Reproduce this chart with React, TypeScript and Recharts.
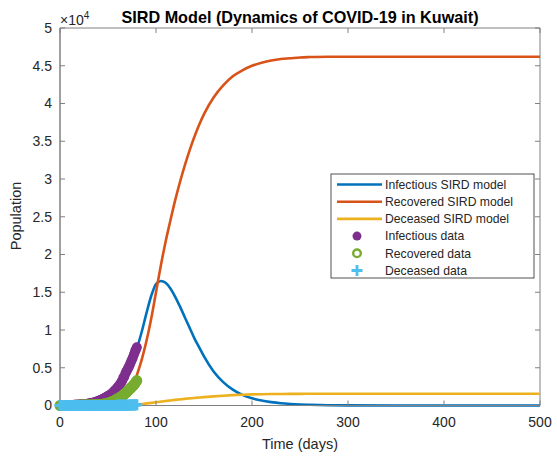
import React from 'react';
import { ComposedChart, Line, Scatter, XAxis, YAxis, ReferenceArea, ReferenceLine } from 'recharts';

document.body.style.margin = '0';

// model curves (SIRD fit), population
const modelDays = [0, 10, 20, 30, 40, 50, 60, 65, 70, 75, 80, 85, 90, 95, 100, 105, 110, 115, 120, 125, 130, 135, 140, 145, 150, 160, 170, 180, 190, 200, 210, 220, 230, 240, 250, 260, 280, 300, 350, 400, 450, 500];
const infectiousModel = [10, 20, 50, 120, 300, 700, 1600, 2500, 3800, 5500, 7500, 9700, 12200, 14500, 16100, 16500, 16250, 15500, 14400, 13100, 11700, 10300, 8900, 7700, 6500, 4500, 3100, 2100, 1400, 950, 650, 450, 300, 200, 130, 90, 40, 20, 5, 1, 0, 0];
const recoveredModel = [0, 0, 5, 10, 30, 80, 300, 600, 1100, 2200, 4000, 6000, 8500, 11500, 15000, 18500, 21700, 24500, 27200, 29600, 31800, 33800, 35600, 37200, 38600, 40800, 42400, 43600, 44400, 45000, 45400, 45700, 45900, 46000, 46100, 46150, 46200, 46200, 46200, 46200, 46200, 46200];
const deceasedModel = [0, 0, 0, 2, 5, 12, 30, 45, 60, 85, 120, 190, 280, 350, 430, 510, 590, 665, 740, 810, 880, 940, 1000, 1055, 1110, 1210, 1300, 1370, 1430, 1470, 1500, 1520, 1530, 1540, 1545, 1550, 1555, 1560, 1560, 1560, 1560, 1560];

// reported data, daily (days 0..80)
const dataDays = [
  0, 1, 2, 3, 4, 5, 6, 7, 8, 9, 10, 11, 12, 13, 14, 15, 16, 17, 18, 19, 20,
  21, 22, 23, 24, 25, 26, 27, 28, 29, 30, 31, 32, 33, 34, 35, 36, 37, 38, 39, 40,
  41, 42, 43, 44, 45, 46, 47, 48, 49, 50, 51, 52, 53, 54, 55, 56, 57, 58, 59, 60,
  61, 62, 63, 64, 65, 66, 67, 68, 69, 70, 71, 72, 73, 74, 75, 76, 77, 78, 79, 80,
];
const infectiousData = [
  5, 15, 40, 45, 50, 55, 55, 55, 55, 55, 55, 55, 60, 65, 80, 90, 95, 100, 110, 115, 120,
  125, 135, 150, 160, 170, 185, 200, 215, 230, 250, 270, 300, 320, 350, 380, 420, 460, 500, 550, 600,
  650, 700, 760, 820, 880, 950, 1020, 1100, 1180, 1250, 1320, 1400, 1500, 1600, 1720, 1850, 1970, 2100, 2250, 2400,
  2550, 2700, 2900, 3100, 3350, 3700, 3800, 4200, 4450, 4700, 4950, 5200, 5500, 5800, 6100, 6400, 6750, 7100, 7400, 7700,
];
const recoveredData = [
  0, 0, 0, 0, 0, 0, 0, 0, 0, 0, 0, 0, 5, 5, 10, 15, 20, 25, 30, 30, 40,
  45, 50, 55, 60, 65, 70, 70, 70, 75, 80, 80, 80, 80, 80, 85, 85, 90, 90, 95, 100,
  110, 120, 135, 150, 175, 200, 225, 250, 275, 300, 350, 400, 450, 500, 550, 600, 670, 750, 820, 900,
  980, 1050, 1120, 1200, 1300, 1400, 1500, 1600, 1720, 1850, 1970, 2100, 2220, 2350, 2470, 2600, 2750, 2900, 3100, 3300,
];
const deceasedData = [
  0, 0, 0, 0, 0, 0, 0, 0, 0, 0, 0, 0, 0, 0, 0, 0, 0, 0, 0, 0, 0,
  0, 0, 0, 0, 0, 0, 0, 0, 0, 0, 0, 0, 0, 0, 0, 0, 0, 0, 0, 1,
  1, 1, 1, 1, 1, 1, 2, 3, 4, 5, 6, 7, 8, 9, 11, 12, 13, 15, 17, 20,
  22, 25, 28, 30, 33, 35, 38, 40, 42, 45, 49, 55, 58, 62, 65, 70, 75, 80, 84, 88,
];

const xTicks = [0, 100, 200, 300, 400, 500];
const yTicks = [0, 5000, 10000, 15000, 20000, 25000, 30000, 35000, 40000, 45000, 50000];
const X_MAX = 500;
const Y_MAX = 50000;

const BLUE = '#0072BD';
const ORANGE = '#D95319';
const YELLOW = '#EDB120';
const PURPLE = '#7E2F8E';
const GREEN = '#77AC30';
const CYAN = '#4DBEEE';
const FONT = '"Liberation Sans", Arial, Helvetica, sans-serif';
const TEXT = '#262626';
const AXIS = '#808080';

// tick length on the top/right edges, in data units (about 5px)
const TOP_TICK = 660;
const RIGHT_TICK = 5.2;

const toPoints = (days: number[], values: number[]) => days.map((t, i) => ({ t, v: values[i] }));

const FilledDot = (p: any) => <circle cx={p.cx} cy={p.cy} r={5} fill={PURPLE} />;
const RingDot = (p: any) => (
  <circle cx={p.cx} cy={p.cy} r={4.2} fill="none" stroke={GREEN} strokeWidth={2.6} />
);
const plusPath = (x: number, y: number) => `M${x - 5.5},${y}H${x + 5.5}M${x},${y - 5.5}V${y + 5.5}`;
const PlusMark = (p: any) => <path d={plusPath(p.cx, p.cy)} stroke={CYAN} strokeWidth={3} fill="none" />;

const legendRows = [
  { name: 'Infectious SIRD model', kind: 'line', color: BLUE },
  { name: 'Recovered SIRD model', kind: 'line', color: ORANGE },
  { name: 'Deceased SIRD model', kind: 'line', color: YELLOW },
  { name: 'Infectious data', kind: 'dot', color: PURPLE },
  { name: 'Recovered data', kind: 'ring', color: GREEN },
  { name: 'Deceased data', kind: 'plus', color: CYAN },
];

const tickStyle = { fill: TEXT, fontSize: 14, fontFamily: FONT };

export default function App() {
  return (
    <div style={{ position: 'relative', width: 557, height: 459, background: '#fff' }}>
      <ComposedChart width={557} height={459} margin={{ top: 28, right: 17, bottom: 23.5, left: 0 }}>
        <XAxis
          dataKey="t"
          type="number"
          domain={[0, X_MAX]}
          ticks={xTicks}
          height={30}
          tickSize={-5}
          tickMargin={17}
          stroke={AXIS}
          tick={tickStyle}
        />
        <YAxis
          dataKey="v"
          type="number"
          domain={[0, Y_MAX]}
          ticks={yTicks}
          width={60}
          tickSize={-5}
          tickMargin={13}
          stroke={AXIS}
          tick={tickStyle}
          tickFormatter={(v: number) => String(v / 10000)}
        />
        {/* box around the axes, with ticks on the top and right edges */}
        <ReferenceArea x1={0} x2={X_MAX} y1={0} y2={Y_MAX} fill="none" stroke={AXIS} strokeWidth={1} fillOpacity={0} />
        {xTicks.map((t) => (
          <ReferenceLine key={`tx${t}`} segment={[{ x: t, y: Y_MAX }, { x: t, y: Y_MAX - TOP_TICK }]} stroke={AXIS} />
        ))}
        {yTicks.map((v) => (
          <ReferenceLine key={`ty${v}`} segment={[{ x: X_MAX, y: v }, { x: X_MAX - RIGHT_TICK, y: v }]} stroke={AXIS} />
        ))}
        <Line data={toPoints(modelDays, infectiousModel)} dataKey="v" type="monotone" stroke={BLUE} strokeWidth={2.6} dot={false} isAnimationActive={false} />
        <Line data={toPoints(modelDays, recoveredModel)} dataKey="v" type="monotone" stroke={ORANGE} strokeWidth={2.6} dot={false} isAnimationActive={false} />
        <Line data={toPoints(modelDays, deceasedModel)} dataKey="v" type="monotone" stroke={YELLOW} strokeWidth={2.6} dot={false} isAnimationActive={false} />
        <Scatter data={toPoints(dataDays, infectiousData)} dataKey="v" shape={FilledDot} isAnimationActive={false} />
        <Scatter data={toPoints(dataDays, recoveredData)} dataKey="v" shape={RingDot} isAnimationActive={false} />
        <Scatter data={toPoints(dataDays, deceasedData)} dataKey="v" shape={PlusMark} isAnimationActive={false} />
      </ComposedChart>

      <svg
        width={557}
        height={459}
        style={{ position: 'absolute', left: 0, top: 0, pointerEvents: 'none' }}
        fontFamily={FONT}
      >
        <text x={300} y={23} textAnchor="middle" fontSize={16.2} fontWeight="bold" fill="#000">
          SIRD Model (Dynamics of COVID-19 in Kuwait)
        </text>
        <text x={60} y={25} fontSize={14} fill={TEXT}>
          ×10<tspan dy={-6} fontSize={10}>4</tspan>
        </text>
        <text x={300} y={449} textAnchor="middle" fontSize={14.5} fill={TEXT}>
          Time (days)
        </text>
        <text transform="translate(21,216) rotate(-90)" textAnchor="middle" fontSize={14.5} fill={TEXT}>
          Population
        </text>

        <rect x={331} y={174} width={203} height={104} fill="#fff" stroke={TEXT} strokeWidth={0.8} />
        {legendRows.map((row, i) => {
          const cy = 184.5 + i * 17.2;
          return (
            <g key={row.name}>
              {row.kind === 'line' && <line x1={337} x2={382} y1={cy} y2={cy} stroke={row.color} strokeWidth={2.6} />}
              {row.kind === 'dot' && <circle cx={357} cy={cy} r={4.5} fill={row.color} />}
              {row.kind === 'ring' && <circle cx={357} cy={cy} r={3.8} fill="none" stroke={row.color} strokeWidth={2.4} />}
              {row.kind === 'plus' && <path d={plusPath(357, cy)} stroke={row.color} strokeWidth={2.8} fill="none" />}
              <text x={385} y={cy + 4.3} fontSize={12.2} fill={TEXT}>
                {row.name}
              </text>
            </g>
          );
        })}
      </svg>
    </div>
  );
}
